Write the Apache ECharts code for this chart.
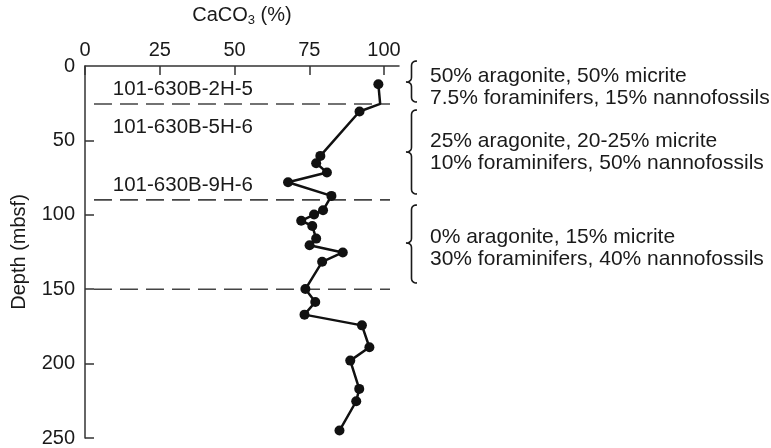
<!DOCTYPE html>
<html>
<head>
<meta charset="utf-8">
<script src="https://cdn.jsdelivr.net/npm/echarts@6/dist/echarts.min.js"></script>
<style>
  html, body { margin: 0; padding: 0; background: #fff; }
  #chart { width: 771px; height: 448px; }
</style>
</head>
<body>
<div id="chart"></div>
<script>
// CaCO3 content (%) against depth (mbsf), Site 630 hole B
const caco3 = [98.1, 98.7, 91.8, 78.7, 77.3, 80.9, 67.9, 82.4, 79.6, 76.6, 72.3, 76.0, 77.3,
               75.1, 86.2, 79.3, 73.7, 77.0, 73.4, 92.6, 95.1, 88.7, 91.7, 90.7, 85.1];
const depth = [12.3, 25.5, 30.6, 60.4, 65.3, 71.6, 78.1, 87.3, 97.0, 99.8, 104.0, 107.5, 116.0,
               120.5, 125.3, 131.6, 149.9, 158.6, 167.1, 174.3, 189.0, 198.0, 217.0, 225.3, 245.0];
// index of the bend in the curve that carries no sample marker
const unmarked = [1];

// unit boundaries (dashed) and the section labels above them
const boundaryDepths = [25.5, 90, 150];
const boundaryFrom = 3;
const boundaryTo = 102;
const sectionNames = ['101-630B-2H-5', '101-630B-5H-6', '101-630B-9H-6'];
const sectionDepths = [15.5, 41.5, 80];
const sectionX = 9.3;

// axis ticks
const xTicks = [0, 25, 50, 75, 100];
const yTicks = [0, 50, 100, 150, 200, 250];

// composition notes for each unit
const notes = [
  ['50% aragonite, 50% micrite', '7.5% foraminifers, 15% nannofossils'],
  ['25% aragonite, 20-25% micrite', '10% foraminifers, 50% nannofossils'],
  ['0% aragonite, 15% micrite', '30% foraminifers, 40% nannofossils']
];

const FONT = "'Liberation Sans', Arial, Helvetica, sans-serif";
const INK = '#1a1a1a';

const chart = echarts.init(document.getElementById('chart'), null, { renderer: 'canvas' });

const curve = caco3.map((v, i) => unmarked.includes(i)
  ? { value: [v, depth[i]], symbol: 'none' }
  : { value: [v, depth[i]] });

const boundarySeries = boundaryDepths.map(d => ({
  type: 'line',
  data: [[boundaryFrom, d], [boundaryTo, d]],
  symbol: 'none',
  silent: true,
  z: 1,
  lineStyle: { color: '#444', width: 1.6, type: [18, 8] }
}));

// points along a curly brace (opening to the right) between y1 and y2, tip at ym
function bracePoints(xr, xl, y1, y2, ym) {
  const xm = (xr + xl) / 2;
  const r = 5;
  const pts = [];
  const quad = (p0, p1, p2) => {
    for (let k = 0; k <= 8; k++) {
      const t = k / 8, u = 1 - t;
      pts.push([u * u * p0[0] + 2 * u * t * p1[0] + t * t * p2[0],
                u * u * p0[1] + 2 * u * t * p1[1] + t * t * p2[1]]);
    }
  };
  quad([xr, y1], [xm, y1], [xm, y1 + r]);
  quad([xm, ym - r], [xm, ym], [xl, ym]);
  quad([xl, ym], [xm, ym], [xm, ym + r]);
  quad([xm, y2 - r], [xm, y2], [xr, y2]);
  return pts;
}

const braces = [
  { y1: 61, y2: 102, ym: 82, ty: 87 },
  { y1: 110, y2: 194, ym: 152, ty: 152 },
  { y1: 205, y2: 283, ym: 243, ty: 248 }
];

const graphics = [];
braces.forEach((b, i) => {
  graphics.push({
    type: 'polyline',
    shape: { points: bracePoints(417, 406, b.y1, b.y2, b.ym) },
    style: { fill: null, stroke: INK, lineWidth: 1.6 }
  });
  graphics.push({
    type: 'text',
    x: 430,
    y: b.ty,
    style: {
      text: notes[i].join('\n'),
      font: `21px ${FONT}`,
      fill: INK,
      lineHeight: 22,
      verticalAlign: 'middle',
      align: 'left'
    }
  });
});

chart.setOption({
  animation: false,
  backgroundColor: '#fff',
  grid: { left: 85, top: 66, width: 314, height: 372 },
  xAxis: {
    type: 'value',
    position: 'top',
    min: 0,
    max: 105,
    interval: 25,
    name: '{a|CaCO}{s|3}{a| (%)}',
    nameLocation: 'middle',
    nameGap: 39,
    nameTextStyle: {
      rich: {
        a: { fontSize: 20, fontFamily: FONT, color: INK },
        s: { fontSize: 13, fontFamily: FONT, color: INK, padding: [10, 0, 0, 0] }
      }
    },
    axisLine: { show: true, lineStyle: { color: '#333', width: 1.5 } },
    axisTick: { show: true, inside: true, length: 9, customValues: xTicks, lineStyle: { color: '#333', width: 1.5 } },
    axisLabel: { customValues: xTicks, fontSize: 20, fontFamily: FONT, color: INK, margin: 6 },
    splitLine: { show: false }
  },
  yAxis: {
    type: 'value',
    inverse: true,
    min: 0,
    max: 250,
    interval: 50,
    name: 'Depth (mbsf)',
    nameLocation: 'middle',
    nameGap: 56,
    nameTextStyle: { fontSize: 20, fontFamily: FONT, color: INK },
    axisLine: { show: true, lineStyle: { color: '#333', width: 1.5 } },
    axisTick: { show: true, inside: true, length: 9, customValues: yTicks.slice(1), lineStyle: { color: '#333', width: 1.5 } },
    axisLabel: { customValues: yTicks, fontSize: 20, fontFamily: FONT, color: INK, margin: 10 },
    splitLine: { show: false }
  },
  series: [
    ...boundarySeries,
    {
      type: 'scatter',
      data: sectionDepths.map((d, i) => ({ value: [sectionX, d], name: sectionNames[i] })),
      symbolSize: 0,
      silent: true,
      itemStyle: { opacity: 1 },
      label: {
        show: true,
        position: 'right',
        distance: 0,
        opacity: 1,
        formatter: p => p.name,
        fontSize: 20.5,
        fontFamily: FONT,
        color: INK
      }
    },
    {
      type: 'line',
      data: curve,
      z: 3,
      symbol: 'circle',
      symbolSize: 10,
      showAllSymbol: true,
      lineStyle: { color: '#111', width: 2.5 },
      itemStyle: { color: '#111' }
    }
  ],
  graphic: graphics
});
</script>
</body>
</html>
